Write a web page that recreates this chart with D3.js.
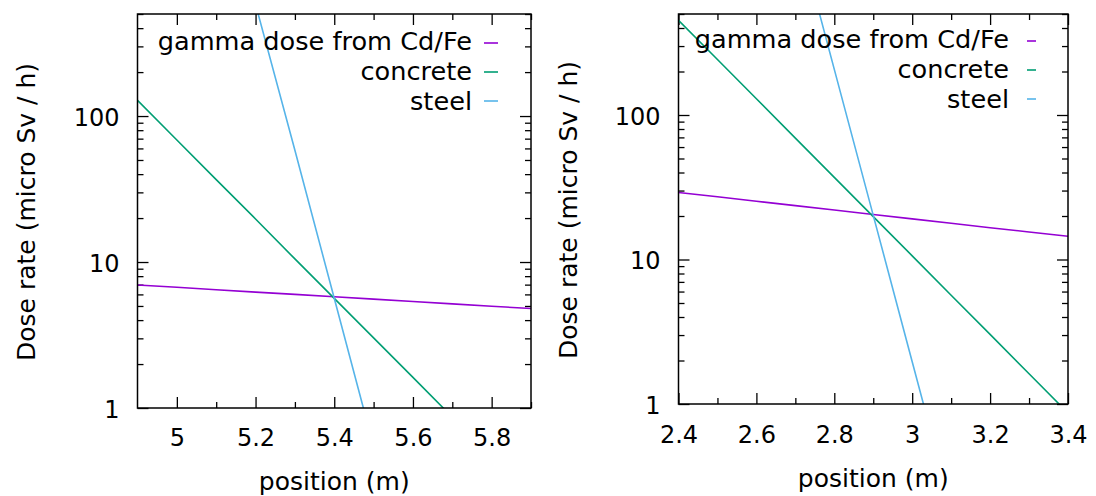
<!DOCTYPE html>
<html>
<head>
<meta charset="utf-8">
<script src="https://cdn.jsdelivr.net/npm/d3@7"></script>
<style>
    body { margin: 0; background: #fff; }
    text { font-family: "DejaVu Sans", sans-serif; fill: #000; }
    .tick line { stroke: #000; stroke-width: 1.3; }
</style>
</head>
<body>
<div id="chart"></div>
<script>
// legend names and colours (gnuplot defaults)
let seriesNames = ['gamma dose from Cd/Fe', 'concrete', 'steel'];
let seriesColors = ['#9400d3', '#009e73', '#56b4e9'];

// left panel: positions (m) and dose rates (micro Sv / h)
let leftPos = [4.9, 5.0, 5.1, 5.2, 5.3, 5.4, 5.5, 5.6, 5.7, 5.8, 5.9];
let leftGamma = [6.96, 6.71, 6.46, 6.22, 6.00, 5.78, 5.57, 5.36, 5.17, 4.98, 4.80];
let leftConcrete = [128, 68.5, 36.7, 19.7, 10.5, 5.64, 3.02, 1.62, 0.866, 0.464, 0.248];
let leftSteelPos = [5.1, 5.2, 5.3, 5.4, 5.5, 5.6];
let leftSteel = [6250, 583, 58.3, 5.64, 0.545, 0.0526];
let leftXTicks = [5.0, 5.2, 5.4, 5.6, 5.8];
let leftXMinor = [5.1, 5.3, 5.5, 5.7, 5.9];

// right panel
let rightPos = [2.4, 2.5, 2.6, 2.7, 2.8, 2.9, 3.0, 3.1, 3.2, 3.3, 3.4];
let rightGamma = [29.1, 27.15, 25.3, 23.6, 22.0, 20.5, 19.1, 17.8, 16.6, 15.5, 14.5];
let rightConcrete = [452, 242, 129.5, 69.2, 37.0, 19.8, 10.6, 5.66, 3.03, 1.62, 0.866];
let rightSteelPos = [2.7, 2.8, 2.9, 3.0, 3.1];
let rightSteel = [2133, 207, 20.2, 1.96, 0.191];
let rightXTicks = [2.4, 2.6, 2.8, 3.0, 3.2, 3.4];
let rightXMinor = [2.5, 2.7, 2.9, 3.1, 3.3];

// shared y axis ticks
let yDomain = [1, 500];
let yTicks = [1, 10, 100];
let yMinor = [2, 3, 4, 5, 6, 7, 8, 9, 20, 30, 40, 50, 60, 70, 80, 90, 200, 300, 400, 500];

let svg = d3.select('#chart')
    .append('svg')
    .attr('width', 1096)
    .attr('height', 496);

function drawPanel(p) {
    let width = p.right - p.left;
    let height = p.bottom - p.top;

    let g = svg.append('g')
        .attr('transform', `translate(${p.left}, ${p.top})`);

    let x = d3.scaleLinear().domain(p.xDomain).range([0, width]);
    let y = d3.scaleLog().domain(yDomain).range([height, 0]);

    // clip so lines stop at the frame
    g.append('clipPath')
        .attr('id', p.id)
        .append('rect')
        .attr('width', width)
        .attr('height', height);

    // major + minor ticks, mirrored
    let fmtX = d => d3.format('')(+d.toFixed(1));
    g.append('g')
        .attr('transform', `translate(0, ${height})`)
        .style('font-size', '24px')
        .call(d3.axisBottom(x).tickValues(p.xTicks).tickSize(-11).tickPadding(p.xPad).tickFormat(fmtX))
        .call(a => a.select('.domain').remove())
        .call(a => a.selectAll('text').attr('font-family', null));
    g.append('g')
        .attr('transform', `translate(0, ${height})`)
        .call(d3.axisBottom(x).tickValues(p.xMinor).tickSize(-6).tickFormat(''))
        .call(a => a.select('.domain').remove());
    g.append('g')
        .call(d3.axisTop(x).tickValues(p.xTicks).tickSize(-11).tickFormat(''))
        .call(a => a.select('.domain').remove());
    g.append('g')
        .call(d3.axisTop(x).tickValues(p.xMinor).tickSize(-6).tickFormat(''))
        .call(a => a.select('.domain').remove());

    g.append('g')
        .style('font-size', '24px')
        .call(d3.axisLeft(y).tickValues(yTicks).tickSize(-11).tickPadding(18).tickFormat(d3.format('')))
        .call(a => a.select('.domain').remove())
        .call(a => a.selectAll('text').attr('font-family', null).attr('dy', '0.38em'));
    g.append('g')
        .call(d3.axisLeft(y).tickValues(yMinor).tickSize(-6).tickFormat(''))
        .call(a => a.select('.domain').remove());
    g.append('g')
        .attr('transform', `translate(${width}, 0)`)
        .call(d3.axisRight(y).tickValues(yTicks).tickSize(-11).tickFormat(''))
        .call(a => a.select('.domain').remove());
    g.append('g')
        .attr('transform', `translate(${width}, 0)`)
        .call(d3.axisRight(y).tickValues(yMinor).tickSize(-6).tickFormat(''))
        .call(a => a.select('.domain').remove());

    // lines
    let line = d3.line()
        .x(d => x(d[0]))
        .y(d => y(d[1]));

    let lines = g.append('g').attr('clip-path', `url(#${p.id})`);
    p.series.forEach(function (s, i) {
        lines.append('path')
            .datum(d3.zip(s.pos, s.vals))
            .attr('fill', 'none')
            .attr('stroke', seriesColors[i])
            .attr('stroke-width', 1.6)
            .attr('d', line);
    });

    // frame
    g.append('rect')
        .attr('width', width)
        .attr('height', height)
        .attr('fill', 'none')
        .attr('stroke', '#000')
        .attr('stroke-width', 1.5);

    // legend
    seriesNames.forEach(function (name, i) {
        g.append('text')
            .attr('x', p.legendX - p.left)
            .attr('y', p.legendY - p.top + i * 30)
            .attr('text-anchor', 'end')
            .style('font-size', '25.6px')
            .text(name);
        g.append('line')
            .attr('x1', p.sampleX[0] - p.left)
            .attr('x2', p.sampleX[1] - p.left)
            .attr('y1', p.legendY - p.top - 7 + i * 29)
            .attr('y2', p.legendY - p.top - 7 + i * 29)
            .attr('stroke', seriesColors[i])
            .attr('stroke-width', 1.6);
    });

    // axis titles
    svg.append('text')
        .attr('x', (p.left + p.right) / 2)
        .attr('y', p.xTitleY)
        .attr('text-anchor', 'middle')
        .style('font-size', '25px')
        .text('position (m)');
    svg.append('text')
        .attr('transform', `translate(${p.yTitleX}, ${p.yTitleMid}) rotate(-90)`)
        .attr('text-anchor', 'middle')
        .style('font-size', '25px')
        .text('Dose rate (micro Sv / h)');
}

drawPanel({
    id: 'clipLeft', left: 137.5, right: 531, top: 14, bottom: 408,
    xDomain: [4.9, 5.9], xTicks: leftXTicks, xMinor: leftXMinor, xPad: 21,
    series: [
        { pos: leftPos, vals: leftGamma },
        { pos: leftPos, vals: leftConcrete },
        { pos: leftSteelPos, vals: leftSteel }
    ],
    legendX: 472, legendY: 50, sampleX: [484, 498],
    xTitleY: 490, yTitleX: 35, yTitleMid: 212
});

drawPanel({
    id: 'clipRight', left: 678.5, right: 1068, top: 14, bottom: 404,
    xDomain: [2.4, 3.4], xTicks: rightXTicks, xMinor: rightXMinor, xPad: 22,
    series: [
        { pos: rightPos, vals: rightGamma },
        { pos: rightPos, vals: rightConcrete },
        { pos: rightSteelPos, vals: rightSteel }
    ],
    legendX: 1009, legendY: 48, sampleX: [1027, 1036],
    xTitleY: 487, yTitleX: 577, yTitleMid: 210
});
</script>
</body>
</html>
